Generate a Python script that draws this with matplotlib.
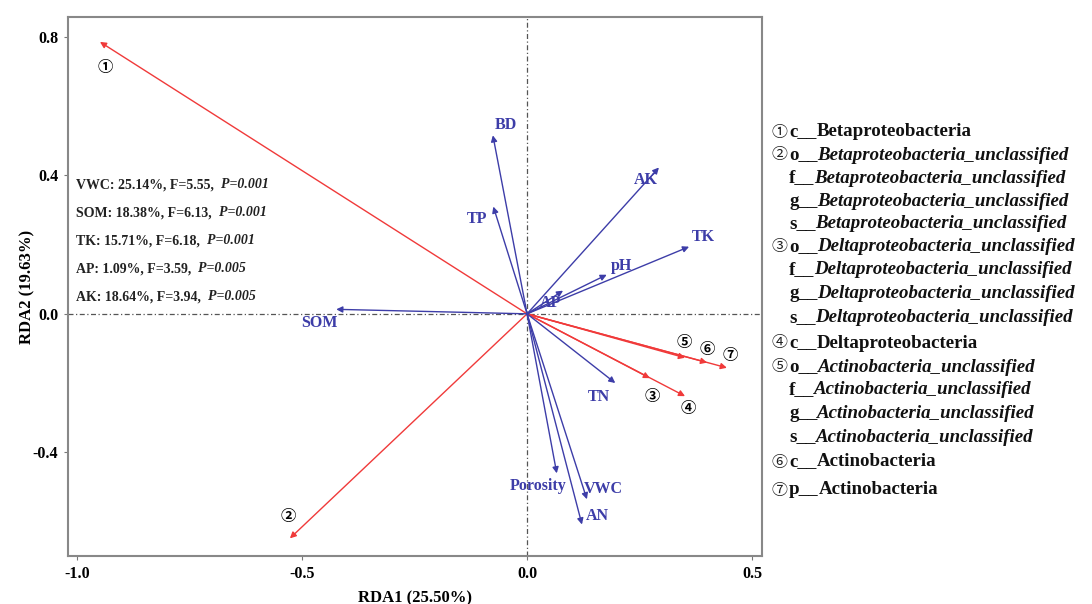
import matplotlib
matplotlib.use('Agg')
import matplotlib.pyplot as plt

plt.rcParams['font.family'] = ['Liberation Serif', 'Noto Sans CJK SC', 'DejaVu Sans']

# species scores (red arrows)
species_ids = ['①', '②', '③', '④', '⑤', '⑥', '⑦']
species_x = [-0.949, -0.527, 0.273, 0.351, 0.351, 0.400, 0.444]
species_y = [0.786, -0.649, -0.186, -0.238, -0.127, -0.141, -0.156]

# environmental factors (blue arrows)
env_names = ['BD', 'TP', 'AK', 'TK', 'pH', 'AP', 'SOM', 'TN', 'Porosity', 'VWC', 'AN']
env_x = [-0.076, -0.075, 0.293, 0.360, 0.177, 0.080, -0.424, 0.196, 0.066, 0.133, 0.122]
env_y = [0.516, 0.310, 0.423, 0.194, 0.113, 0.067, 0.013, -0.200, -0.461, -0.536, -0.609]

# significance table
stat_vars = ['VWC', 'SOM', 'TK', 'AP', 'AK']
stat_expl = ['25.14%', '18.38%', '15.71%', '1.09%', '18.64%']
stat_f = ['5.55', '6.13', '6.18', '3.59', '3.94']
stat_p = ['0.001', '0.001', '0.001', '0.005', '0.005']

# legend text
leg_nums = ['①', '②', '', '', '', '③', '', '', '', '④', '⑤', '', '', '', '⑥', '⑦']
leg_prefix = ['c__', 'o__', 'f__', 'g__', 's__', 'o__', 'f__', 'g__', 's__',
              'c__', 'o__', 'f__', 'g__', 's__', 'c__', 'p__']
leg_names = ['Betaproteobacteria'] + ['Betaproteobacteria_unclassified'] * 4 + \
            ['Deltaproteobacteria_unclassified'] * 4 + ['Deltaproteobacteria'] + \
            ['Actinobacteria_unclassified'] * 4 + ['Actinobacteria', 'Actinobacteria']
leg_italic = [False] + [True] * 8 + [False] + [True] * 4 + [False, False]

# label offsets from arrow tips (pixels, y up)
sp_off = [(5, -25), (-2, 22), (2, -18), (3, -12), (-1, 16), (0, 14), (3, 13)]
env_off = [(13, 10), (-16, -12), (-13, -13), (14, 10), (15, 9), (-13, -12),
           (-17, -14), (-16, -14), (-19, -13), (16, 10), (15, 9)]

RED = '#f03a3a'
BLUE = '#3d3da8'
W, H = 1092, 604

fig = plt.figure(figsize=(W / 100, H / 100), dpi=100)
ax = fig.add_axes([68 / W, 1 - 556 / H, (762 - 68) / W, (556 - 17) / H])
ax.set_xlim(-1.02, 0.522)
ax.set_ylim(-0.70, 0.858)

ax.axhline(0, color='#555555', lw=0.9, ls=(0, (4, 2, 1, 2)))
ax.axvline(0, color='#555555', lw=0.9, ls=(0, (4, 2, 1, 2)))

for i in range(len(species_ids)):
    ax.annotate('', xy=(species_x[i], species_y[i]), xytext=(0, 0),
                arrowprops=dict(arrowstyle='-|>', color=RED, lw=1.0,
                                mutation_scale=9, shrinkA=0, shrinkB=0))
    ax.annotate(species_ids[i], xy=(species_x[i], species_y[i]),
                xytext=(sp_off[i][0] * 0.72, sp_off[i][1] * 0.72),
                textcoords='offset points', ha='center', va='center',
                fontsize=11, fontweight='bold', color='black',
                family=['Noto Sans CJK SC', 'DejaVu Sans'])

for i in range(len(env_names)):
    ax.annotate('', xy=(env_x[i], env_y[i]), xytext=(0, 0),
                arrowprops=dict(arrowstyle='-|>', color=BLUE, lw=1.0,
                                mutation_scale=9, shrinkA=0, shrinkB=0))
    ax.annotate(env_names[i], xy=(env_x[i], env_y[i]),
                xytext=(env_off[i][0] * 0.72, env_off[i][1] * 0.72),
                textcoords='offset points', ha='center', va='center',
                fontsize=11.5, fontweight='bold', color=BLUE)

# significance text
for i in range(len(stat_vars)):
    ypx = 185 + i * 28
    t = ax.annotate('%s: %s, F=%s,  ' % (stat_vars[i], stat_expl[i], stat_f[i]),
                    xy=(76 / W, 1 - ypx / H), xycoords='figure fraction',
                    ha='left', va='center', fontsize=10, fontweight='bold', color='#222222')
    ax.annotate('P=%s' % stat_p[i], xy=(1, 0), xycoords=t, ha='left', va='bottom',
                fontsize=10, fontweight='bold', style='italic', color='#222222')

ax.set_xticks([-1.0, -0.5, 0.0, 0.5])
ax.set_yticks([-0.4, 0.0, 0.4, 0.8])
ax.xaxis.set_major_formatter(matplotlib.ticker.FormatStrFormatter('%.1f'))
ax.yaxis.set_major_formatter(matplotlib.ticker.FormatStrFormatter('%.1f'))
for lab in ax.get_xticklabels() + ax.get_yticklabels():
    lab.set_fontweight('bold')
    lab.set_fontsize(11.5)
ax.tick_params(direction='out', length=3, width=0.8, color='#777777', pad=4)
for s in ax.spines.values():
    s.set_color('#888888')
    s.set_linewidth(1.5)

ax.set_xlabel('RDA1 (25.50%)', fontsize=12, fontweight='bold', labelpad=6)
ax.set_ylabel('RDA2 (19.63%)', fontsize=12, fontweight='bold', labelpad=-2)

# legend at right
leg_y = [132, 155, 178, 201, 224, 247, 270, 293, 318, 343, 367, 390, 413, 437, 462, 490]
for i in range(len(leg_prefix)):
    yf = 1 - leg_y[i] / H
    if leg_nums[i]:
        ax.annotate(leg_nums[i], xy=(779 / W, yf), xycoords='figure fraction',
                    ha='center', va='center', fontsize=11.5,
                    family=['Noto Sans CJK SC', 'DejaVu Sans'], color='#222222')
    t = ax.annotate(leg_prefix[i], xy=(789 / W, yf), xycoords='figure fraction',
                    ha='left', va='center', fontsize=13.6, fontweight='bold', color='#111111')
    ax.annotate(leg_names[i], xy=(1, 0), xycoords=t, ha='left', va='bottom',
                fontsize=13.6, fontweight='bold',
                style='italic' if leg_italic[i] else 'normal', color='#111111')

fig.savefig('out.png', dpi=100)
